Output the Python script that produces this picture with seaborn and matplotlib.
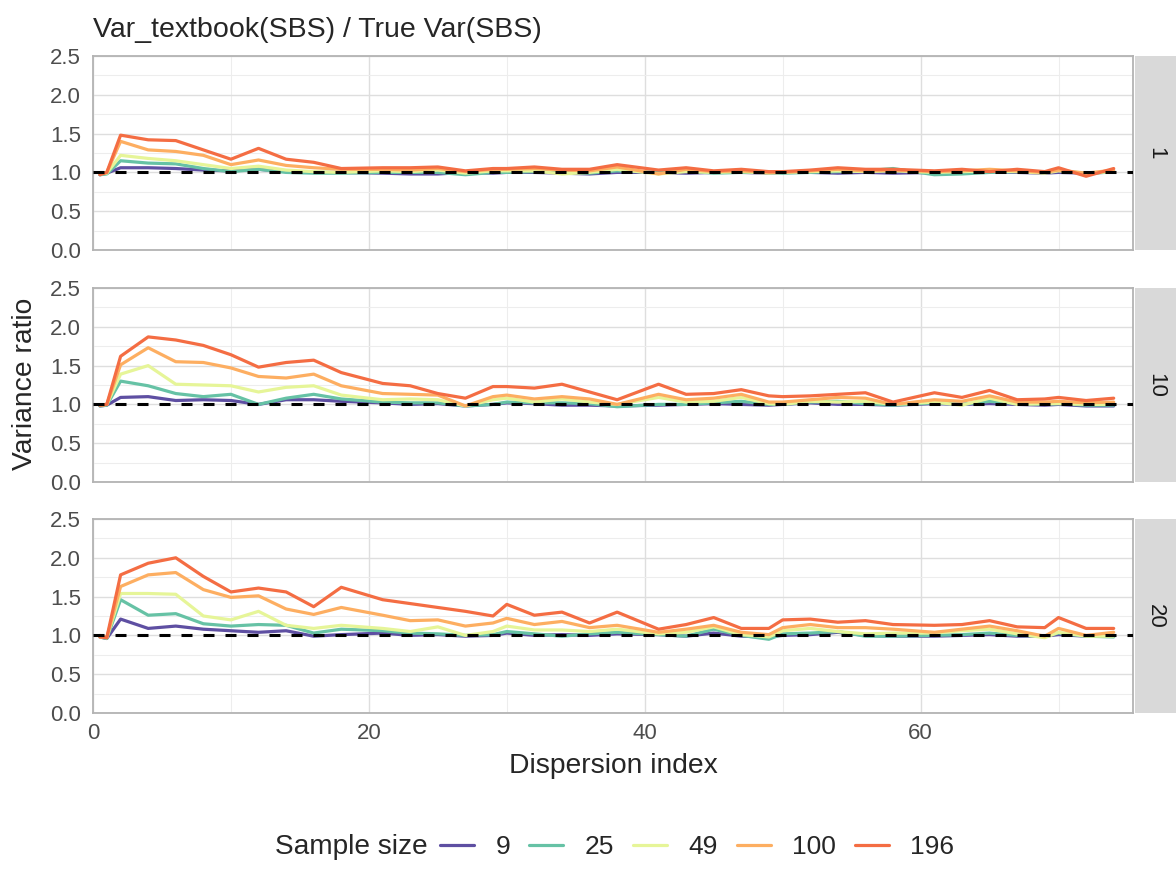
import numpy as np
import pandas as pd
import matplotlib
matplotlib.use("Agg")
import matplotlib.pyplot as plt
import seaborn as sns

# dispersion index values (x) shared by every panel
disp_index = [0.5, 1, 2, 4, 6, 8, 10, 12, 14, 16, 18, 21, 23, 25, 27, 29, 30, 32, 34, 36,
              38, 41, 43, 45, 47, 49, 50, 52, 54, 56, 58, 61, 63, 65, 67, 69, 70, 72, 74]

sample_sizes = [9, 25, 49, 100, 196]
panels = ["1", "10", "20"]

# panel "1"
p1_n9 = [0.97, 0.99, 1.06, 1.06, 1.05, 1.03, 1.02, 1.04, 1.01, 1.00, 1.00, 0.99, 0.98, 0.98, 1.00, 0.99, 1.00, 1.00, 0.99, 0.98,
         1.00, 1.00, 0.99, 1.00, 1.00, 0.99, 1.00, 1.00, 0.99, 1.00, 0.99, 1.00, 1.00, 1.01, 1.00, 0.99, 1.00, 0.99, 1.01]
p1_n25 = [0.97, 0.98, 1.15, 1.12, 1.11, 1.05, 1.01, 1.04, 1.00, 0.99, 0.99, 1.00, 1.00, 1.00, 0.97, 1.00, 1.00, 1.01, 1.00, 0.99,
          1.02, 1.00, 1.02, 0.99, 1.00, 1.00, 0.99, 1.00, 1.01, 1.02, 1.05, 0.97, 0.98, 1.00, 1.01, 1.00, 1.03, 0.98, 1.01]
p1_n49 = [0.98, 0.99, 1.22, 1.18, 1.15, 1.10, 1.05, 1.08, 1.03, 1.01, 1.00, 1.02, 1.01, 1.03, 0.99, 1.02, 1.02, 1.02, 0.98, 1.00,
          1.04, 0.98, 1.01, 1.00, 1.01, 0.99, 1.00, 1.01, 1.02, 1.01, 1.02, 1.00, 1.01, 1.02, 1.01, 0.99, 1.02, 0.99, 1.01]
p1_n100 = [0.98, 1.00, 1.40, 1.29, 1.27, 1.22, 1.10, 1.16, 1.09, 1.06, 1.04, 1.04, 1.03, 1.05, 1.01, 1.04, 1.04, 1.05, 1.03, 1.02,
           1.07, 0.98, 1.04, 1.01, 1.02, 1.00, 1.00, 1.02, 1.04, 1.02, 1.03, 1.01, 1.02, 1.04, 1.02, 1.00, 1.03, 0.99, 1.03]
p1_n196 = [0.97, 1.00, 1.48, 1.42, 1.41, 1.29, 1.17, 1.31, 1.17, 1.13, 1.05, 1.06, 1.06, 1.07, 1.02, 1.05, 1.05, 1.07, 1.04, 1.04,
           1.10, 1.03, 1.06, 1.02, 1.04, 1.01, 1.01, 1.03, 1.06, 1.04, 1.04, 1.02, 1.04, 1.01, 1.04, 1.01, 1.06, 0.95, 1.05]

# panel "10"
p10_n9 = [0.98, 0.99, 1.09, 1.10, 1.05, 1.06, 1.05, 1.00, 1.06, 1.06, 1.04, 1.02, 1.00, 1.01, 0.98, 1.00, 1.02, 1.01, 0.99, 0.99,
          0.98, 0.99, 1.00, 1.01, 1.00, 0.99, 1.00, 1.02, 1.00, 1.00, 0.99, 1.01, 1.00, 1.01, 1.00, 0.99, 1.00, 0.98, 0.98]
p10_n25 = [0.98, 0.99, 1.30, 1.24, 1.14, 1.10, 1.13, 1.00, 1.08, 1.13, 1.07, 1.03, 1.02, 1.02, 0.98, 1.00, 1.03, 1.02, 1.02, 1.01,
           0.97, 1.00, 1.00, 1.02, 1.04, 1.00, 1.00, 1.03, 1.04, 1.01, 0.99, 1.02, 1.00, 1.04, 1.01, 1.00, 1.01, 0.99, 0.99]
p10_n49 = [0.99, 1.00, 1.39, 1.50, 1.26, 1.25, 1.24, 1.16, 1.22, 1.24, 1.12, 1.06, 1.07, 1.06, 0.98, 1.06, 1.08, 1.03, 1.07, 1.03,
           1.00, 1.09, 1.03, 1.04, 1.09, 1.01, 1.00, 1.04, 1.03, 1.04, 1.00, 1.03, 0.99, 1.08, 1.00, 1.01, 1.01, 1.00, 1.00]
p10_n100 = [0.99, 1.00, 1.51, 1.73, 1.55, 1.54, 1.47, 1.36, 1.34, 1.39, 1.24, 1.14, 1.13, 1.12, 0.98, 1.10, 1.12, 1.07, 1.10, 1.07,
            1.00, 1.13, 1.06, 1.08, 1.13, 1.03, 1.03, 1.06, 1.09, 1.08, 1.00, 1.06, 1.04, 1.11, 1.03, 1.03, 1.04, 1.02, 1.03]
p10_n196 = [0.99, 1.00, 1.62, 1.87, 1.83, 1.76, 1.64, 1.48, 1.54, 1.57, 1.41, 1.27, 1.24, 1.14, 1.08, 1.23, 1.23, 1.21, 1.26, 1.16,
            1.06, 1.26, 1.13, 1.14, 1.19, 1.11, 1.10, 1.11, 1.13, 1.15, 1.03, 1.15, 1.09, 1.18, 1.06, 1.07, 1.09, 1.05, 1.08]

# panel "20"
p20_n9 = [0.98, 0.96, 1.21, 1.09, 1.12, 1.08, 1.06, 1.04, 1.06, 0.99, 1.01, 1.03, 1.00, 1.01, 0.99, 1.00, 1.03, 1.00, 1.01, 1.00,
          1.02, 1.01, 0.99, 1.03, 0.99, 0.98, 1.00, 1.01, 1.04, 1.00, 0.99, 0.99, 1.00, 1.01, 0.99, 0.99, 1.01, 0.99, 1.00]
p20_n25 = [0.98, 0.96, 1.46, 1.26, 1.28, 1.15, 1.12, 1.14, 1.13, 1.03, 1.08, 1.06, 1.03, 1.02, 1.00, 1.01, 1.05, 1.02, 0.99, 1.02,
           1.04, 1.01, 0.99, 1.08, 1.00, 0.95, 1.02, 1.03, 1.05, 0.99, 0.99, 1.00, 1.01, 1.03, 1.00, 0.99, 1.03, 0.99, 0.98]
p20_n49 = [0.98, 0.97, 1.54, 1.54, 1.53, 1.25, 1.20, 1.31, 1.13, 1.09, 1.13, 1.09, 1.05, 1.11, 1.00, 1.05, 1.12, 1.07, 1.07, 1.05,
           1.08, 1.02, 1.04, 1.11, 1.01, 0.98, 1.06, 1.09, 1.05, 1.02, 1.03, 1.03, 1.06, 1.08, 1.02, 0.97, 1.04, 0.99, 0.99]
p20_n100 = [1.00, 0.97, 1.63, 1.78, 1.81, 1.59, 1.49, 1.51, 1.34, 1.27, 1.36, 1.26, 1.19, 1.20, 1.12, 1.16, 1.22, 1.14, 1.18, 1.10,
            1.13, 1.04, 1.08, 1.13, 1.04, 1.01, 1.10, 1.14, 1.10, 1.10, 1.08, 1.04, 1.08, 1.12, 1.06, 0.99, 1.09, 1.00, 1.04]
p20_n196 = [0.98, 0.97, 1.78, 1.93, 2.00, 1.76, 1.56, 1.61, 1.56, 1.37, 1.62, 1.46, 1.41, 1.36, 1.31, 1.25, 1.40, 1.26, 1.30, 1.16,
            1.30, 1.08, 1.14, 1.23, 1.09, 1.09, 1.20, 1.21, 1.17, 1.19, 1.14, 1.13, 1.14, 1.19, 1.11, 1.10, 1.23, 1.09, 1.09]

series = {
    "1": [p1_n9, p1_n25, p1_n49, p1_n100, p1_n196],
    "10": [p10_n9, p10_n25, p10_n49, p10_n100, p10_n196],
    "20": [p20_n9, p20_n25, p20_n49, p20_n100, p20_n196],
}

# long table for seaborn
rows = []
for pan in panels:
    for n, vals in zip(sample_sizes, series[pan]):
        for xv, yv in zip(disp_index, vals):
            rows.append((pan, n, xv, yv))
df = pd.DataFrame(rows, columns=["panel", "n", "disp", "ratio"])

palette = ["#5E4FA2", "#66C2A5", "#E6F598", "#FDAE61", "#F46D43"]

sns.set_style("white")
plt.rcParams["font.family"] = ["Liberation Sans", "DejaVu Sans"]

W, H = 1176, 877
fig = plt.figure(figsize=(W / 100, H / 100), dpi=100)

px = lambda v: v / W
py = lambda v: 1 - v / H

panel_px = [(56, 250), (288, 482), (519, 713)]
left, right = 93, 1133

axes = []
for i, (pan, (top, bot)) in enumerate(zip(panels, panel_px)):
    ax = fig.add_axes([px(left), py(bot), px(right - left), (bot - top) / H])
    axes.append(ax)
    sub = df[df["panel"] == pan]
    sns.lineplot(data=sub, x="disp", y="ratio", hue="n", hue_order=sample_sizes,
                 palette=palette, linewidth=2.3, ax=ax, legend=(i == 2), zorder=3)
    ax.axhline(1.0, color="black", lw=2.2, linestyle=(0, (3.6, 3.6)), zorder=4)

    ax.set_xlim(0, 75.4)
    ax.set_ylim(0, 2.5)
    ax.set_xticks([0, 20, 40, 60])
    ax.set_xticks([10, 30, 50, 70], minor=True)
    ax.set_yticks(np.arange(0, 2.51, 0.5))
    ax.set_yticks(np.arange(0.25, 2.5, 0.5), minor=True)
    ax.set_yticklabels([f"{v:.1f}" for v in np.arange(0, 2.51, 0.5)])
    ax.grid(True, which="major", color="#DEDEDE", lw=1.0, zorder=0)
    ax.grid(True, which="minor", color="#EDEDED", lw=0.8, zorder=0)
    ax.set_axisbelow(True)
    for s in ax.spines.values():
        s.set_color("#B3B3B3")
        s.set_linewidth(1.3)
    ax.tick_params(axis="both", which="major", length=3, width=1, color="#B3B3B3",
                   labelsize=16, labelcolor="#4D4D4D", pad=5.5)
    ax.tick_params(axis="x", which="major", pad=4)
    ax.tick_params(axis="both", which="minor", length=0)
    ax.set_xlabel("")
    ax.set_ylabel("")
    if i < 2:
        ax.tick_params(axis="x", which="major", labelbottom=False, length=0)

    # facet strip on the right
    sax = fig.add_axes([px(1135), py(bot), px(W - 1135), (bot - top) / H])
    sax.set_facecolor("#D9D9D9")
    sax.set_xticks([])
    sax.set_yticks([])
    for s in sax.spines.values():
        s.set_visible(False)
    sax.text(0.5, 0.5, pan, rotation=270, ha="center", va="center",
             fontsize=16, color="#1A1A1A", transform=sax.transAxes)

handles, labels = axes[2].get_legend_handles_labels()
axes[2].get_legend().remove()
for h in handles:
    h.set_linewidth(2.3)

fig.legend(handles, labels, loc="center left", bbox_to_anchor=(px(440), py(847)),
           ncol=5, frameon=False, fontsize=19, handlelength=1.3, handletextpad=0.8,
           columnspacing=0.72, borderpad=0, borderaxespad=0)
fig.text(px(275), py(847), "Sample size", fontsize=20.2, ha="left", va="center")

fig.text(px(93), py(30), "Var_textbook(SBS) / True Var(SBS)", fontsize=20.5, ha="left", va="center")
fig.text(px(613), py(766), "Dispersion index", fontsize=20.3, ha="center", va="center")
fig.text(px(25), py(384), "Variance ratio", fontsize=20.3, rotation=90, ha="center", va="center")

fig.savefig("out.png", dpi=100)
